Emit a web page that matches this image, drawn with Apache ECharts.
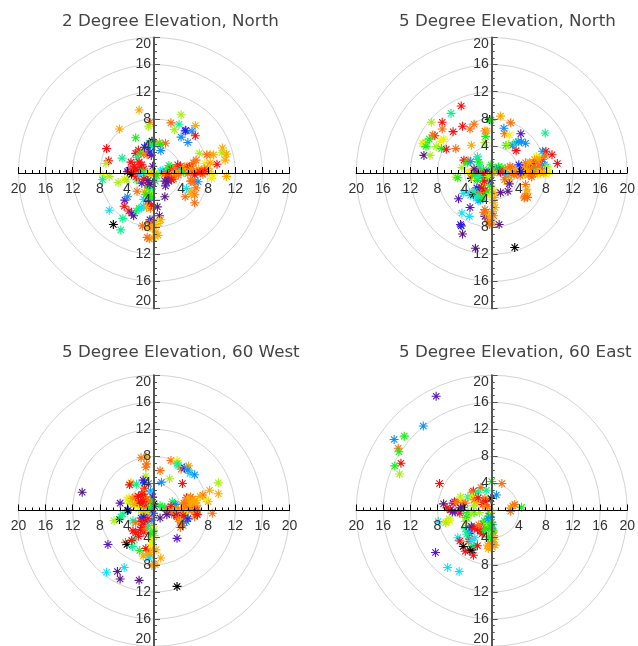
<!DOCTYPE html>
<html><head><meta charset="utf-8">
<script src="https://cdn.jsdelivr.net/npm/echarts@6/dist/echarts.min.js"></script>
<style>html,body{margin:0;padding:0;background:#fff}#c{width:638px;height:646px}</style></head>
<body><div id="c"></div>
<script>
const titles = ["2 Degree Elevation, North","5 Degree Elevation, North","5 Degree Elevation, 60 West","5 Degree Elevation, 60 East"];
const colorTable = ["#000000","#5b1a8a","#5a18c8","#2020f0","#1090ff","#10e0ff","#10f090","#18f018","#a8f018","#f0f000","#ffa800","#ff6e10","#f81010"];
// each point: [x, y, colour index]
const north2 = [
[2.5,7.4,11],[4,8.6,8],[3.7,7.2,6],[3,6.4,8],[6.1,7,10],[4.7,6.3,3],[4.6,6.2,3],[5.6,6.2,4],[6.1,5.5,12],[4,5.3,4],[5,4.5,4],[0.8,4.5,10],[0.9,4.2,7],[1.7,4.4,11],[1,3.3,4],
[10.1,3.7,10],[10.5,2.7,9],[10,3,8],[10.7,2.8,10],[10.5,1.9,10],[9.3,1.3,12],[8.8,2.7,10],[8.3,2.7,10],[7.8,2.7,11],[6.7,2.9,8],[6.2,1.9,11],[5.8,1.5,11],[5.5,1,11],[7.5,1.4,9],[8.3,1.5,10],[7.9,0.7,10],[7.4,0.6,11],[7,0.4,11],[6.6,0.6,10],[6.3,0.2,11],[8.2,0.2,10],[7.5,0.2,12],[7.2,-0.2,11],[6.8,0.1,12],[8.7,-0.3,9],[10.7,-0.5,10],[8.5,-0.8,9],
[1,0.3,5],[1.3,0.4,5],[1.8,0.2,4],[2.1,0.7,7],[2.2,1.1,6],[2.4,0.9,7],[2.6,0.5,12],[2.9,0.2,11],[3.2,0.6,11],[3.5,1.2,12],[3.6,0.8,11],[3.9,1,12],[4.2,0.6,7],[4,0.2,6],[4.4,0.1,7],[4.5,0.9,11],[4.9,1,10],[5.2,0.9,12],[5.5,0.6,10],[1.5,-0.2,11],[1.9,-0.4,11],[2.3,-0.3,12],[2.7,-0.4,11],[3,-0.1,10],[3.3,-0.2,10],[3.6,-0.3,11],[2.1,-0.9,12],[2.5,-0.8,11],[2.9,-0.9,11],[5,-0.1,11],[5.6,0.2,11],[6,-0.3,12],
[2.1,-1.1,3],[2.2,-1.2,2],[2.6,-1,12],[1.7,-1.9,2],[1.6,-1.2,1],[1.6,-3.5,1],[5.4,-1.2,11],[5.6,-1.2,11],[6,-1.3,11],[6.5,-1.3,4],[4.8,-2.3,5],[6.2,-2.2,11],[5.5,-2.7,10],[6,-3.2,11],[5.5,-3.2,10],[4.6,-3.5,11],[6,-4.4,11],
[0.5,-5,1],[0.8,-6.3,1],[1,-6.9,10],[0.7,-7.4,10],[0.3,-7.3,9],[0,-7.6,10],[-0.4,-7.4,9],[-0.3,-6.9,11],[-0.6,-6.9,3],[-0.7,-7.4,11],[-0.2,-8.2,10],[-1.7,-7.8,11],[-0.9,-8,10],[0.3,-8.7,10],[0.2,-9.4,9],[-1,-9.5,11],[-0.7,-9.7,11],[-0.1,-9.6,10],[0.6,-9.2,10],
[-4.3,-4,2],[-3.9,-3.5,4],[-4.4,-4.9,12],[-3.7,-5.6,12],[-3.3,-5.9,2],[-3,-6.3,1],[-2.6,-5.6,6],[-2.2,-5.2,7],[-1.9,-5.2,5],[-1.6,-4.9,5],[-0.8,-4,3],[-1.5,-3.9,5],[-0.8,-4.6,11],[-0.5,-5.2,11],[-0.4,-4.7,12],[-1.1,-5.1,10],[-2.5,-2.7,11],[-4.6,-6.7,6],[-6.6,-5.5,5],[-6,-7.6,0],[-4.9,-8.4,6],
[-2.2,9.3,10],[-0.6,7.5,11],[-0.8,6.9,8],[-5.1,6.5,10],[-2.7,5.2,7],[-7,3.6,12],[-6.7,1.8,12],[-7.1,1.4,8],[-4.7,2.2,6],[-0.3,4.7,0],
[-7.5,-0.3,9],[-7.6,-1,6],[-6.6,-0.5,8],[-5.3,-1.4,8],[-4.4,-0.9,9],[-4,-1,8],[-3.9,0.2,1],[-3.7,0.4,2],[-3.5,0.1,12],[-3.3,-0.2,0],[-3.2,0.8,11],[-3.4,1.6,12],[-2.9,1,12],[-2.8,0.5,12],[-2.4,0.2,12],[-2,0.8,12],[-1.8,1.2,12],[-1.5,0.6,12],[-2.7,2.9,12],[-2.3,3.4,12],[-2,2.9,7],[-2.5,2.3,6],[-2.2,1.6,12],[-1.5,2.8,11],[-1.3,3.2,10],[-1,2.7,11],[-1.4,3.8,3],[-1,4.1,2],[-0.7,4.4,6],[-0.2,3.9,5],[0,4.3,7],[-0.6,3.1,3],[-0.4,2.6,2],[-0.2,1,1],[-1.6,0.3,7],[-1.2,-0.4,6],[-0.8,-0.1,9],[-0.3,0.1,8],[0,0,9],[0.3,-0.2,9],[-0.4,-0.2,10],[0.4,-0.4,7],
[-2.6,-1,7],[-2.6,-0.5,12],[-2.1,-0.3,5],[-1.8,-1.5,2],[-1.5,-0.9,12],[-1,-1.8,12],[-0.8,-2.3,7],[-0.5,-2.5,7],[-0.4,-3,8],[-0.7,-3.3,7],[-1.4,-2.8,10],[-0.4,-3.6,7],[-0.2,-1.4,0],[0.2,-1.2,6],[-0.2,-2,6],[-1.2,-3.2,7],[-0.9,-1.1,1],[-0.6,-1.7,1]
];
const north5 = [
[-4.5,9.9,12],[-6,8.8,6],[-8.9,7.5,8],[-7.3,7.5,12],[-7.3,6.5,11],[-4.3,6.9,12],[-2.6,7.2,11],[-3.2,6.5,11],[-5.7,6.1,12],[-8.4,5.5,12],[-8.7,5.6,11],[-9.2,5,7],[-7.1,5,9],[-7.5,4.7,9],[-9.8,4.5,7],[-10,4.3,8],[-10.2,4.4,9],[-9.7,3.9,7],[-8.2,3.9,8],[-7.4,3.6,7],[-6.7,3.5,12],[-5.3,3.6,11],[-3,4.1,10],[-10,2.6,1],[-9.1,2.6,8],
[-1,6.2,11],[-0.7,6.2,10],[-0.9,5.4,7],[-1,4.5,8],[-0.3,7.9,0],[-0.1,7.8,7],[1.3,8.4,10],[2.8,7.4,11],[1.8,6.6,4],[1.9,5.8,11],[2.6,5.6,9],[4.3,5.8,2],[2.1,4.1,7],[2.5,4.2,8],[3.1,4.1,4],[3.6,4.5,6],[3.9,4.6,4],[4.4,4.6,4],[5,4.4,4],[3.6,3.3,12],[7.9,5.9,6],[7.5,3.2,4],[7.7,2.9,5],[8,3.2,12],[8.9,2.7,12],[9.7,1.4,12],[7.9,2.5,11],[7.5,2,11],[7.3,1.7,12],[6.6,2.4,9],[6.3,2,10],[5.8,1.4,11],[5.3,1.1,10],[5,1.5,11],[4.5,0.7,11],[4.8,0.4,10],[5.5,0.8,11],[6.1,1.4,12],[6.5,0.8,11],[6.3,0.4,7],[7,1,11],[7.5,0.5,11],[7.8,1.2,4],[8.2,0.9,8],[8.5,0.2,9],[8,-0.2,9],[7.2,0,10],[6.8,-0.3,9],[5.9,-0.6,11],[6,0.5,11],[5.4,-0.3,11],[4.9,-0.2,10],[4,1.2,3],[5.6,1.6,10],[6.8,1.6,11],[7,2.1,10],[6.7,0.1,10],[7.7,0,10],[5.2,0.3,10],[6.1,-0.2,11],
[1.3,0.1,12],[1.6,0.3,12],[2,0.6,11],[2.4,0.7,10],[2.7,1,11],[3.1,0.8,11],[3.5,0.4,10],[2.1,-0.3,4],[2.5,-0.4,5],[1,0.9,7],[1.5,0.8,7],[2.9,-0.2,11],[3.3,-0.3,11],[3.7,-0.1,11],[4.2,-0.4,11],[2.6,-1,10],[2.2,-1.3,9],[1.9,-1,11],[1.2,0.3,12],[0.7,0.5,4],[4.3,0.2,3],
[2.6,-1.6,2],[1.3,-2.9,1],[2.4,-2.7,1],[5,-1.7,11],[5.2,-2.4,10],[5.2,-3,10],[4.9,-3.5,11],[4.8,-3.7,11],[5.3,-3.6,11],[3.4,-11,0],[1.1,-7.6,1],
[0.3,-2.8,10],[0.4,-3.6,10],[0.3,-4.4,10],[0.5,-5.1,10],[0.1,-5.7,10],[0.3,-6.3,11],[-0.1,-6.9,10],[0.2,-7.5,10],[-0.3,-7.6,11],[-0.5,-7.2,11],[-0.7,-6.8,11],[-1,-6.4,1],[-0.9,-5.9,10],[-1,-5.4,11],[-1.2,-5.8,11],[-0.4,-6.5,10],[0.1,-2.2,9],[-0.3,-1.8,7],
[-4.9,-3.8,2],[-3.2,-5.1,2],[-4.4,-5.9,5],[-3.3,-6.4,5],[-4.6,-7.6,2],[-4.5,-7.8,3],[-4.3,-9,1],[-2.4,-11.1,1],
[-4.2,-3,5],[-3.3,-2.9,5],[-3.1,-3.3,5],[-2.7,-3.2,0],[-2.3,-3.7,5],[-2,-4.1,5],[-1.7,-4,4],[-1.3,-3.7,7],[-1.2,-3,7],[-1,-2.5,12],[-1.4,-2.4,12],[-1.7,-2.7,12],[-1.5,-2.1,12],[-1.9,-2.9,11],[-2.2,-2.2,3],[-1.3,-1.8,12],[-1,-1.5,8],[-0.6,-2.8,7],[-0.3,-3.4,9],[-0.1,-1.1,3],[-0.3,-0.7,1],[-1.1,-1.2,12],[-2,-3.4,6],[-2.6,-2.7,6],[-3,-0.8,0],[-2.7,-0.9,9],[-2.1,-1.1,7],
[-5.3,-0.6,8],[-5,-0.7,7],[-4.4,0.8,8],[-4.1,1.9,12],[-3.5,1.8,11],[-3.6,1.5,7],[-3.1,1.7,4],[-2.1,2.4,6],[-2.1,2,5],[-1.9,1.6,7],[-2.3,0.1,3],[-3.1,0.1,11],[-2.9,-0.2,11],[-2.5,-0.3,7],[-2,0.3,12],[-1.6,0.1,12],[-1.2,0.5,7],[-1.3,-0.4,12],[-0.7,0.1,3],[-0.4,0.1,3],[-0.1,1.2,7],[0.1,0.7,7],[-0.1,-0.3,4],[-1.8,0.9,6],[-0.9,-0.1,12],[-2.6,0.6,1],[-1.9,-0.5,6],[-0.5,-0.5,8],[0.3,0,10],[-3.5,0.2,9]
];
const west60 = [
[-10.6,2.7,1],[-5,1.1,2],[-3.8,0.1,3],[-3.9,0,0],[-5.1,-1.3,0],[-5.9,-1.5,8],[-4.6,-0.5,6],[-4.9,-0.9,6],[-6.8,-5,2],[-4.2,-4.7,11],[-4,-5,0],[-7,-9.1,5],[-4.4,-8.4,5],[-5.4,-9,1],[-5,-10.1,1],[-2.2,-10.3,1],[3.4,-11.2,0],[3.4,-4.1,2],[1,-7,10],[0,-7.9,11],[0.2,-8,10],[-0.3,-8.1,10],
[8.6,-0.4,11],[9.5,2.5,10],[9.5,4.1,8],[8.2,3,10],[8,1.3,10],[7.6,1.7,9],[7.2,2.3,11],[6.8,2.1,10],[4.2,4,12],[2.3,4.7,8],[1.1,4.2,4],[0.9,5.9,11],[2.5,7.4,11],[3.4,7.4,9],[3.4,6.9,6],[3.6,6.7,6],[4,6.1,11],[4.5,6.3,3],[4.8,6.4,4],[5.1,6.6,10],[5.3,5.5,5],[5,6,4],[6,5.3,4],
[-1.9,7.8,11],[-1.1,7.9,10],[-1.1,6.9,11],[-1.2,6.4,11],[-1.2,5.1,8],[-1.6,4.5,2],[-1.4,4.1,3],[-0.8,4,4],[-3.4,4.1,10],[-3.6,3.8,12],[-2.6,3.9,6],[-1.4,3.3,12],[-1.5,2.8,11],[-0.5,2.9,4],[-0.3,2.5,5],[-0.2,2,2],[0,1,0],[0.1,0.6,1],[-0.5,1.4,7],
[-3.7,1.9,9],[-4,1.6,9],[-3.5,1.1,8],[-3.2,1.8,10],[-2.8,2,11],[-2.3,2.1,12],[-1.8,2.4,12],[-1.4,2,12],[-1.1,1.7,11],[-0.8,1.3,11],[-2,1.4,12],[-1.6,1.3,12],[-2.3,1.1,12],[-2.9,0.9,10],[-1.9,0.7,12],[-1.2,0.6,12],[-1.6,0.2,11],[-2.3,0.2,9],[-0.9,0,7],[-0.5,0.5,7],[-0.3,-0.2,4],[-0.1,-0.4,3],[-1,-0.4,9],[-1.7,-0.2,8],[-1.3,-0.7,10],
[0.9,0.7,7],[1.2,0.5,6],[1.6,0.5,7],[2.1,0.3,5],[2.7,1.3,6],[3,1,7],[3.2,0.9,4],[2.5,0.6,12],[1.9,-0.1,11],[2.3,-0.2,11],[2.7,-0.1,11],[3.1,0.1,10],[3.6,0.2,11],[3.3,-0.3,10],[4,0.2,10],[4.4,0.5,10],[4.8,1.9,12],[5.1,1.5,12],[5.4,2,11],[5.7,1.7,11],[6,1.5,10],[5.2,1.1,11],[5.6,1,10],[4.9,0.6,11],[5.3,0.5,10],[5.8,0.7,10],[6.3,0.8,11],[6.4,0.2,11],[6,0.1,12],[5.5,0,10],[5.1,0.1,11],[4.5,0,11],[4.7,-0.4,9],[6.3,-0.4,11],[6,-0.9,11],[6.4,-0.6,12],[4.6,-1,4],[5,-1.1,5],[4.3,-0.7,12],[2.6,-0.5,11],[4.6,1.2,10],[5,1.9,10],[5.5,1.4,10],[6.2,1.1,10],[4.4,1.1,11],
[1.9,-0.6,1],[0.9,-1.1,1],[3.3,-0.7,1],[3.4,-0.9,12],[4,-1.8,12],[3.6,-1.2,11],[3.9,-1.6,10],[4.2,-1.9,11],[3.9,-2.5,11],[4.3,-2.2,11],[4.8,-1.6,4],[5,-1.2,2],
[-1.9,-1.1,3],[-1.5,-1,3],[-1.3,-1.6,2],[-1.9,-1.6,12],[-1.4,-2.1,12],[-3.1,-1.5,6],[-2.7,-1.8,11],[-3.1,-3,12],[-2.7,-3.3,12],[-2.3,-3.8,12],[-2,-2.8,12],[-1.5,-3.2,12],[-1.8,-2.5,12],[-1.2,-2.7,11],[-2.9,-4.3,6],[-3.2,-5.3,6],[-2.1,-5.9,7],[-3.3,-4.4,12],[-0.9,-5.9,11],[-1.2,-5.6,12],[-1,-6.4,10],[-1.6,-6.7,10],[-0.6,-6.5,10],[-0.3,-5.6,10],[0.3,-5.8,10],[-0.4,-5,9],[-0.2,-4.3,8],[0,-3.7,8],[-0.5,-4,9],[-0.5,-3.4,7],[-0.1,-3,7],[-0.1,-2.3,9],[-0.8,-2.2,6],[-0.3,-1.4,4],[-0.7,-7,5],[-0.9,-1.2,12]
];
const east60 = [
[-8.2,16.9,2],[-10.1,12.5,4],[-14.4,10.5,4],[-12.9,11,7],[-13.8,9.2,11],[-13.7,8.7,7],[-13.4,7,12],[-14.3,6.6,7],[-13.6,5.4,8],
[-7.7,4,12],[1.5,4,11],[0,4.3,7],[0.7,2.3,4],[-0.1,1.8,0],[-1.3,1.6,5],[-0.8,3,6],[-1.6,3.4,11],[-2.7,2.9,12],[-2.9,2.7,11],[-2,2.7,6],[-3.5,2,6],[-4.6,2,8],[-4.5,1.5,9],[-4.4,1.1,10],[-3.9,1.1,11],[-2.9,2,9],[-2.6,1.6,11],[-2.2,1.2,10],[-2,1.9,12],[-1,1.8,11],[-0.9,1.3,12],[-1.3,0.9,12],[-2.7,0.7,8],[-1,0.5,10],[-0.3,0.2,10],[-0.6,0.6,11],
[3.4,0.9,11],[3.1,0.7,11],[2.8,0.4,10],[4.4,0.5,7],[2.8,-0.1,11],
[-7.1,1,1],[-5.7,1.1,2],[-5.5,1.3,12],[-5.3,1.2,11],[-6.6,0.4,12],[-6.1,0.1,12],[-5.8,-0.2,1],[-5.4,-0.2,2],[-4.7,-0.4,12],[-4.6,0.4,1],[-4.2,0.5,1],[-3.5,-0.3,7],[-2.6,-0.3,7],[-3,-0.4,8],[-1.8,-0.3,8],[-6.3,-1.2,8],[-6.2,-1.5,9],[-6.7,-1.7,9],[-6.8,-1.8,8],[-7.9,-1.6,5],[-3.6,-1.2,8],[-3.8,-1,7],[-3.9,-1.6,8],
[-3.9,-2.7,6],[-2.9,-2.5,2],[-3,-2.3,1],[-3.3,-3.4,3],[-3.4,-3.2,4],[-2.6,-2.6,12],[-2.1,-2.7,12],[-1.7,-3,12],[-1.4,-3.4,12],[-1.2,-2,12],[-1.9,-2.1,11],[-1,-2.5,11],[-1,-2.9,7],[-0.8,-1.7,8],[-1.1,-1.5,7],[-0.6,-1.9,8],[-0.3,-1.4,6],[-0.2,-0.9,4],[-0.2,-0.4,3],[-0.1,-0.2,9],[-0.5,-0.8,7],[-0.5,-1.2,4],[0,-2.7,2],[0.1,-2.1,4],[0,-1.7,7],[-0.2,-2.4,7],
[-5,-4,5],[-4.7,-4.5,12],[-3.4,-4.6,11],[-3.3,-4.2,12],[-3,-5.3,6],[-2.9,-5.8,0],[-3.2,-5.9,0],[-4.2,-5.3,0],[-3.9,-6,12],[-2.7,-6.6,12],[-2.6,-5.2,6],[-2.1,-5.2,12],[-2.5,-4,5],[-3,-4.4,5],[-3.7,-3.5,6],
[0.2,-3.2,11],[0.3,-3.7,10],[0.4,-4.3,10],[0.1,-4.6,10],[-0.2,-4.9,11],[0.2,-5,11],[0.5,-5.1,10],[0.1,-5.4,10],[-0.4,-5.3,11],[-0.5,-5.6,10],[-0.1,-4,7],[-0.3,-3.6,8],[0.2,-3,7],[-0.5,-3.9,7],[-0.6,-5.1,10],
[-8.3,-6.2,2],[-6.5,-8.4,5],[-4.8,-9,5]
];

const panels = [north2, north5, west60, east60];
const centers = [[154,173],[491.7,173],[154,510.7],[491.7,510.7]];
const titlePos = [[62,13],[399,13],[62,344],[399,344]];
const R = 135.5;
const star = "path://M0 4L8 4M4 0L4 8M1.2 1.2L6.8 6.8M1.2 6.8L6.8 1.2";
const fontFam = '"Liberation Sans", sans-serif';

function axisCommon(isY){
  return {
    type:'value', min:-20, max:20, interval:4, z:5, offset:-R,
    axisLine:{show:true,onZero:false,lineStyle:{color:isY?'#555':'#000',width:isY?2:1}},
    axisTick:{show:true,inside:true,length:6,lineStyle:{color:isY?'#555':'#000',width:1}},
    minorTick:{show:true,splitNumber:4,length:3,lineStyle:{color:isY?'#555':'#000',width:1}},
    splitLine:{show:false}, minorSplitLine:{show:false},
    axisLabel:Object.assign({show:true,fontSize:14,color:'#333',fontFamily:fontFam,margin:isY?3:9,hideOverlap:false,
      formatter:v=>v===0?'':String(Math.abs(v))},
      isY?{verticalAlignMaxLabel:'top',verticalAlignMinLabel:'bottom'}:{})
  };
}
const opt = {animation:false,backgroundColor:'#fff',title:[],polar:[],angleAxis:[],radiusAxis:[],grid:[],xAxis:[],yAxis:[],series:[]};
panels.forEach((pts,i)=>{
  const [cx,cy]=centers[i];
  opt.title.push({text:titles[i],left:titlePos[i][0],top:titlePos[i][1],padding:0,
    textStyle:{fontSize:16.7,fontWeight:'normal',color:'#444',fontFamily:'"DejaVu Sans",sans-serif'}});
  opt.polar.push({center:[cx,cy],radius:R});
  opt.angleAxis.push({polarIndex:i,show:false,min:0,max:360});
  opt.radiusAxis.push({polarIndex:i,min:0,max:20,interval:4,axisLine:{show:false},axisTick:{show:false},axisLabel:{show:false},
    splitLine:{show:true,lineStyle:{color:'#d4d4d4',width:1}}});
  opt.grid.push({left:cx-R,top:cy-R,width:2*R,height:2*R,containLabel:false,show:false});
  opt.xAxis.push(Object.assign(axisCommon(false),{gridIndex:i}));
  opt.yAxis.push(Object.assign(axisCommon(true),{gridIndex:i}));
  opt.series.push({type:'scatter',xAxisIndex:i,yAxisIndex:i,z:2,symbol:star,symbolSize:9,silent:true,clip:false,
    data:pts.map(p=>({value:[p[0],p[1]],itemStyle:{color:'transparent',borderColor:colorTable[p[2]],borderWidth:1.1,opacity:1}}))});
});
echarts.init(document.getElementById('c'),null,{renderer:'canvas'}).setOption(opt);
</script></body></html>
